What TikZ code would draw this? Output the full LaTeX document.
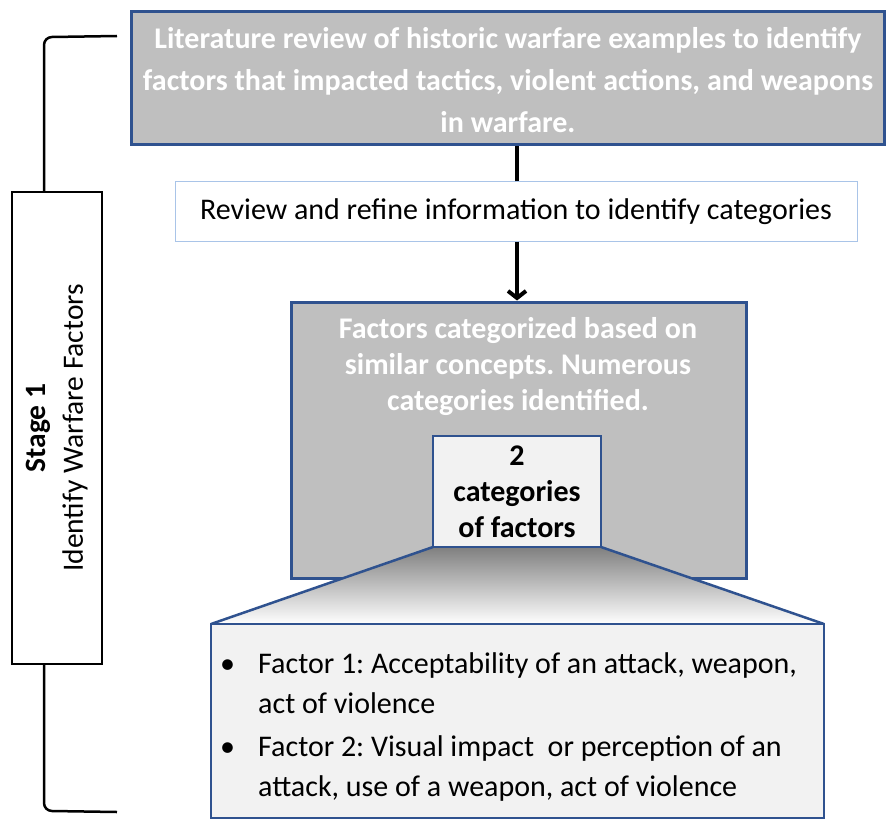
\documentclass[tikz,border=0pt]{standalone}
\usepackage{fontspec}
\setmainfont{Carlito}
\frenchspacing
\usetikzlibrary{arrows.meta}
\definecolor{boxgray}{HTML}{BFBFBF}
\definecolor{boxblue}{HTML}{2F528F}
\definecolor{lightblue}{HTML}{A9C4E8}
\definecolor{paleg}{HTML}{F2F2F2}
\begin{document}
\begin{tikzpicture}[x=1pt,y=-1pt,
  graybox/.style={draw=boxblue, line width=3pt, fill=boxgray, inner sep=0pt},
  palebox/.style={draw=boxblue, line width=2.5pt, fill=paleg, inner sep=0pt},
  whitetxt/.style={text=white, font=\fontsize{30}{36}\selectfont\bfseries, align=center},
  blacktxt/.style={text=black, font=\fontsize{30}{40}\selectfont, align=left, anchor=base west, inner sep=0pt}
]
\useasboundingbox (0,0) rectangle (891,821);
% bracket
\coordinate (bt) at (117,36);
\coordinate (bb) at (117,812);
\node[draw=black, line width=1.5pt, fill=white, minimum width=90pt, minimum height=472pt, inner sep=0pt] (stage) at (57,428) {};
\node[rotate=90, align=center, font=\fontsize{29.5}{37}\selectfont] (stagetxt) at (stage.center) {\textbf{Stage 1}\\Identify Warfare Factors};
\draw[line width=2.5pt] (bt) -- (52,37) to[out=180,in=90] (44,45) -- (stage.north -| 44,0);
\draw[line width=2.5pt] (stage.south -| 44,0) -- (44,803) to[out=-90,in=180] (52,811) -- (bb);
% top box
\node[graybox, minimum width=753pt, minimum height=133pt] (top) at (507.5,78.5) {};
\node[whitetxt, font=\fontsize{30}{42}\selectfont\bfseries] (toptxt) at (508,80) {Literature review of historic warfare examples to identify\\factors that impacted tactics, violent actions, and weapons\\in warfare.};
% review box
\node[draw=lightblue, line width=1pt, fill=white, minimum width=682pt, minimum height=59pt, font=\fontsize{30}{36}\selectfont] (rev) at (516,211.5) {Review and refine information to identify categories};
% factors box
\node[graybox, minimum width=455pt, minimum height=276pt] (fac) at (518.5,440) {};
\node[whitetxt] (factxt) at (518,367) {Factors categorized based on\\similar concepts. Numerous\\categories identified.};
% arrows
\draw[line width=4pt] (rev.north -| 517,0) -- (top.south -| 517,0);
\draw[line width=4pt, -{Straight Barb[length=7pt,width=18pt]}] (rev.south -| 517,0) -- (fac.north -| 517,0);
% funnel
\coordinate (bl) at (211,624);
\coordinate (br) at (824,624);
\coordinate (il) at (433,547);
\coordinate (ir) at (601,547);
\shade[top color=black!50, bottom color=white] (il) -- (ir) -- (br) -- (bl) -- cycle;
\draw[boxblue, line width=2.5pt] (il) -- (bl) (ir) -- (br);
% inner box
\node[palebox, minimum width=168pt, minimum height=111pt] (inner) at (517,491.5) {};
\node[align=center, font=\fontsize{30}{36}\selectfont\bfseries] (innertxt) at (517,492) {2\\categories\\of factors};
% bottom box
\node[palebox, minimum width=613pt, minimum height=194pt] (bot) at (517.5,721) {};
\node[blacktxt] (b1) at (220,673) {\textbullet};
\node[blacktxt] (t1) at (258,713) {Factor 1: Acceptability of an attack, weapon,\\act of violence};
\node[blacktxt] (b2) at (220,756) {\textbullet};
\node[blacktxt] (t2) at (258,796) {Factor 2: Visual impact\ \ or perception of an\\attack, use of a weapon, act of violence};
\end{tikzpicture}
\end{document}
